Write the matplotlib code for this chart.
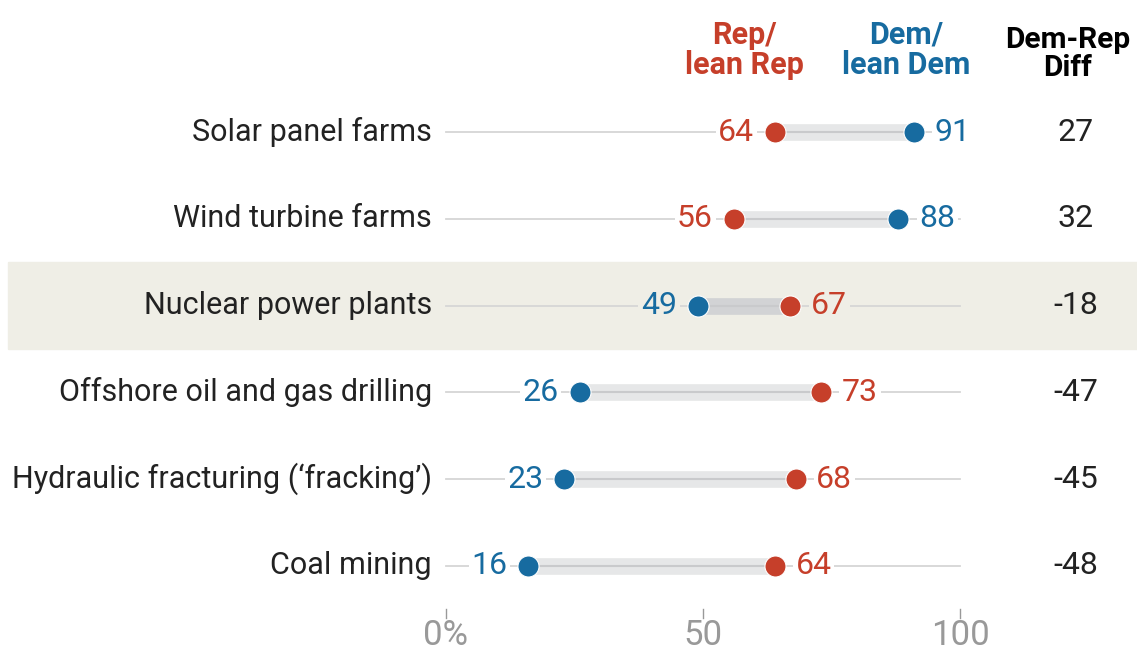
import matplotlib.pyplot as plt

plt.rcParams['font.family'] = ['Roboto', 'DejaVu Sans']

items = ['Solar panel farms', 'Wind turbine farms', 'Nuclear power plants',
         'Offshore oil and gas drilling', 'Hydraulic fracturing (\u2018fracking\u2019)',
         'Coal mining']
rep = [64, 56, 67, 73, 68, 64]
dem = [91, 88, 49, 26, 23, 16]
diff = [27, 32, -18, -47, -45, -48]
highlight = 2

red = '#c63f2a'
blue = '#176ba0'
beige = '#efeee6'

fig = plt.figure(figsize=(11.37, 6.52), dpi=100)
ax = fig.add_axes([0, 0, 1, 1])
ax.set_xlim(-86.77, 134.44)
ax.set_ylim(5.991, -1.521)
ax.axis('off')

for i, name in enumerate(items):
    bg = 'white'
    band = '#e6e7e8'
    if i == highlight:
        bg = beige
        band = '#d2d3d5'
        ax.axhspan(i - 0.5, i + 0.5, xmin=8 / 1137, xmax=1, color=beige, zorder=0)
    ax.plot([0, 100], [i, i], color='#d6d6d6', lw=1.3, zorder=1)
    lo, hi = min(rep[i], dem[i]), max(rep[i], dem[i])
    ax.plot([lo, hi], [i, i], color=band, lw=12, solid_capstyle='butt', zorder=2)
    ax.plot([lo, hi], [i, i], color='#c9cacc', lw=1.5, zorder=3)
    ax.scatter([rep[i]], [i], s=230, color=red, edgecolor='white', lw=0.8, zorder=4)
    ax.scatter([dem[i]], [i], s=230, color=blue, edgecolor='white', lw=0.8, zorder=4)
    # value labels outside the dots
    for v, c in ((rep[i], red), (dem[i], blue)):
        if v == lo:
            ax.annotate(str(v), (v, i), xytext=(-15, 0), textcoords='offset points',
                        ha='right', va='center', color=c, fontsize=23,
                        bbox=dict(boxstyle='square,pad=0.08', fc=bg, ec='none'), zorder=5)
        else:
            ax.annotate(str(v), (v, i), xytext=(15, 0), textcoords='offset points',
                        ha='left', va='center', color=c, fontsize=23,
                        bbox=dict(boxstyle='square,pad=0.08', fc=bg, ec='none'), zorder=5)
    ax.text(-2.7, i, name, ha='right', va='center', fontsize=22, color='#222222')
    ax.text(122.5, i, str(diff[i]), ha='center', va='center', fontsize=23, color='#222222')

# column headers
ax.text(58, -0.945, 'Rep/\nlean Rep', ha='center', va='center', fontsize=22,
        fontweight='bold', color=red, linespacing=1.0)
ax.text(89.5, -0.945, 'Dem/\nlean Dem', ha='center', va='center', fontsize=22,
        fontweight='bold', color=blue, linespacing=1.0)
ax.text(121.0, -0.9, 'Dem-Rep\nDiff', ha='center', va='center', fontsize=21.5,
        fontweight='bold', color='black', linespacing=1.0)

# axis ticks
for t, lab in zip([0, 50, 100], ['0%', '50', '100']):
    ax.plot([t, t], [5.5, 5.6], color='#999999', lw=1)
    ax.text(t, 5.8, lab, ha='center', va='center', fontsize=25, color='#999999')

fig.savefig('out.png', dpi=100)
